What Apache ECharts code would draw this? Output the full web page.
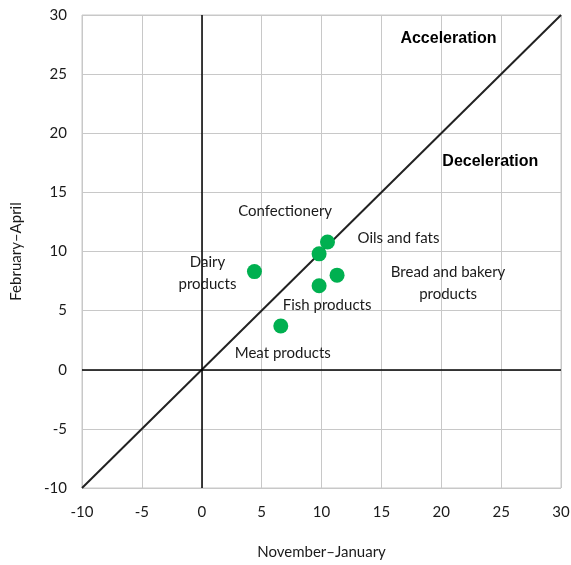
<!DOCTYPE html>
<html><head><meta charset="utf-8">
<script src="https://cdn.jsdelivr.net/npm/echarts@6/dist/echarts.min.js"></script>
<style>html,body{margin:0;padding:0;background:#fff}#c{width:571px;height:565px}</style>
</head><body><div id="c"></div>
<script>
const categories = ['Confectionery', 'Oils and fats', 'Dairy\nproducts', 'Bread and bakery\nproducts', 'Fish products', 'Meat products'];
const novJan = [9.8, 10.5, 4.4, 11.3, 9.8, 6.6];
const febApr = [9.8, 10.8, 8.3, 8.0, 7.1, 3.7];
const labelOffsets = [[-34, -43], [71, -4], [-47, 2], [111, 8], [8, 19], [2, 27]];
const diagonal = [[-10, -10], [30, 30]];
const annotations = [['Acceleration', 20.6, 28.0], ['Deceleration', 24.1, 17.6]];
const axisMin = -10, axisMax = 30, axisStep = 5;
const font = 'Lato';

const chart = echarts.init(document.getElementById('c'));
chart.setOption({
  animation: false,
  grid: {left: 82, right: 10, top: 15, bottom: 77, show: true, borderColor: '#c8c8c8', borderWidth: 1,
    outerBoundsMode: 'none', containLabel: false},
  xAxis: {
    type: 'value', min: axisMin, max: axisMax, interval: axisStep,
    name: 'November\u2013January', nameLocation: 'middle', nameGap: 57,
    nameTextStyle: {fontFamily: font, fontSize: 15, color: '#1a1a1a'},
    axisLine: {show: false}, axisTick: {show: false},
    axisLabel: {fontFamily: font, fontSize: 15, color: '#1a1a1a', margin: 17},
    splitLine: {lineStyle: {color: '#c8c8c8', width: 1}}
  },
  yAxis: {
    type: 'value', min: axisMin, max: axisMax, interval: axisStep,
    name: 'February\u2013April', nameLocation: 'middle', nameGap: 58,
    nameTextStyle: {fontFamily: font, fontSize: 15, color: '#1a1a1a'},
    axisLine: {show: false}, axisTick: {show: false},
    axisLabel: {fontFamily: font, fontSize: 15, color: '#1a1a1a', margin: 15},
    splitLine: {lineStyle: {color: '#c8c8c8', width: 1}}
  },
  series: [
    {
      type: 'line', data: diagonal, symbol: 'none', silent: true,
      lineStyle: {color: '#222', width: 2},
      markLine: {
        silent: true, symbol: 'none', label: {show: false},
        lineStyle: {color: '#000', width: 1.5, type: 'solid'},
        data: [{xAxis: 0}, {yAxis: 0}]
      }
    },
    {
      type: 'scatter', symbolSize: 15,
      itemStyle: {color: '#00B050', opacity: 1},
      data: categories.map((c, i) => ({
        name: c, value: [novJan[i], febApr[i]],
        label: {show: true, position: 'inside', offset: labelOffsets[i], formatter: c,
          fontFamily: font, fontSize: 15, color: '#1a1a1a', lineHeight: 22, align: 'center'}
      })),
      z: 5
    },
    {
      type: 'scatter', symbolSize: 1, silent: true,
      itemStyle: {color: 'rgba(0,0,0,0)', opacity: 1},
      data: annotations.map(a => ({value: [a[1], a[2]], label: {show: true, position: 'inside', formatter: a[0],
        fontFamily: 'Liberation Sans', fontWeight: 'bold', fontSize: 16, color: '#000', opacity: 1}}))
    }
  ]
});
</script></body></html>
